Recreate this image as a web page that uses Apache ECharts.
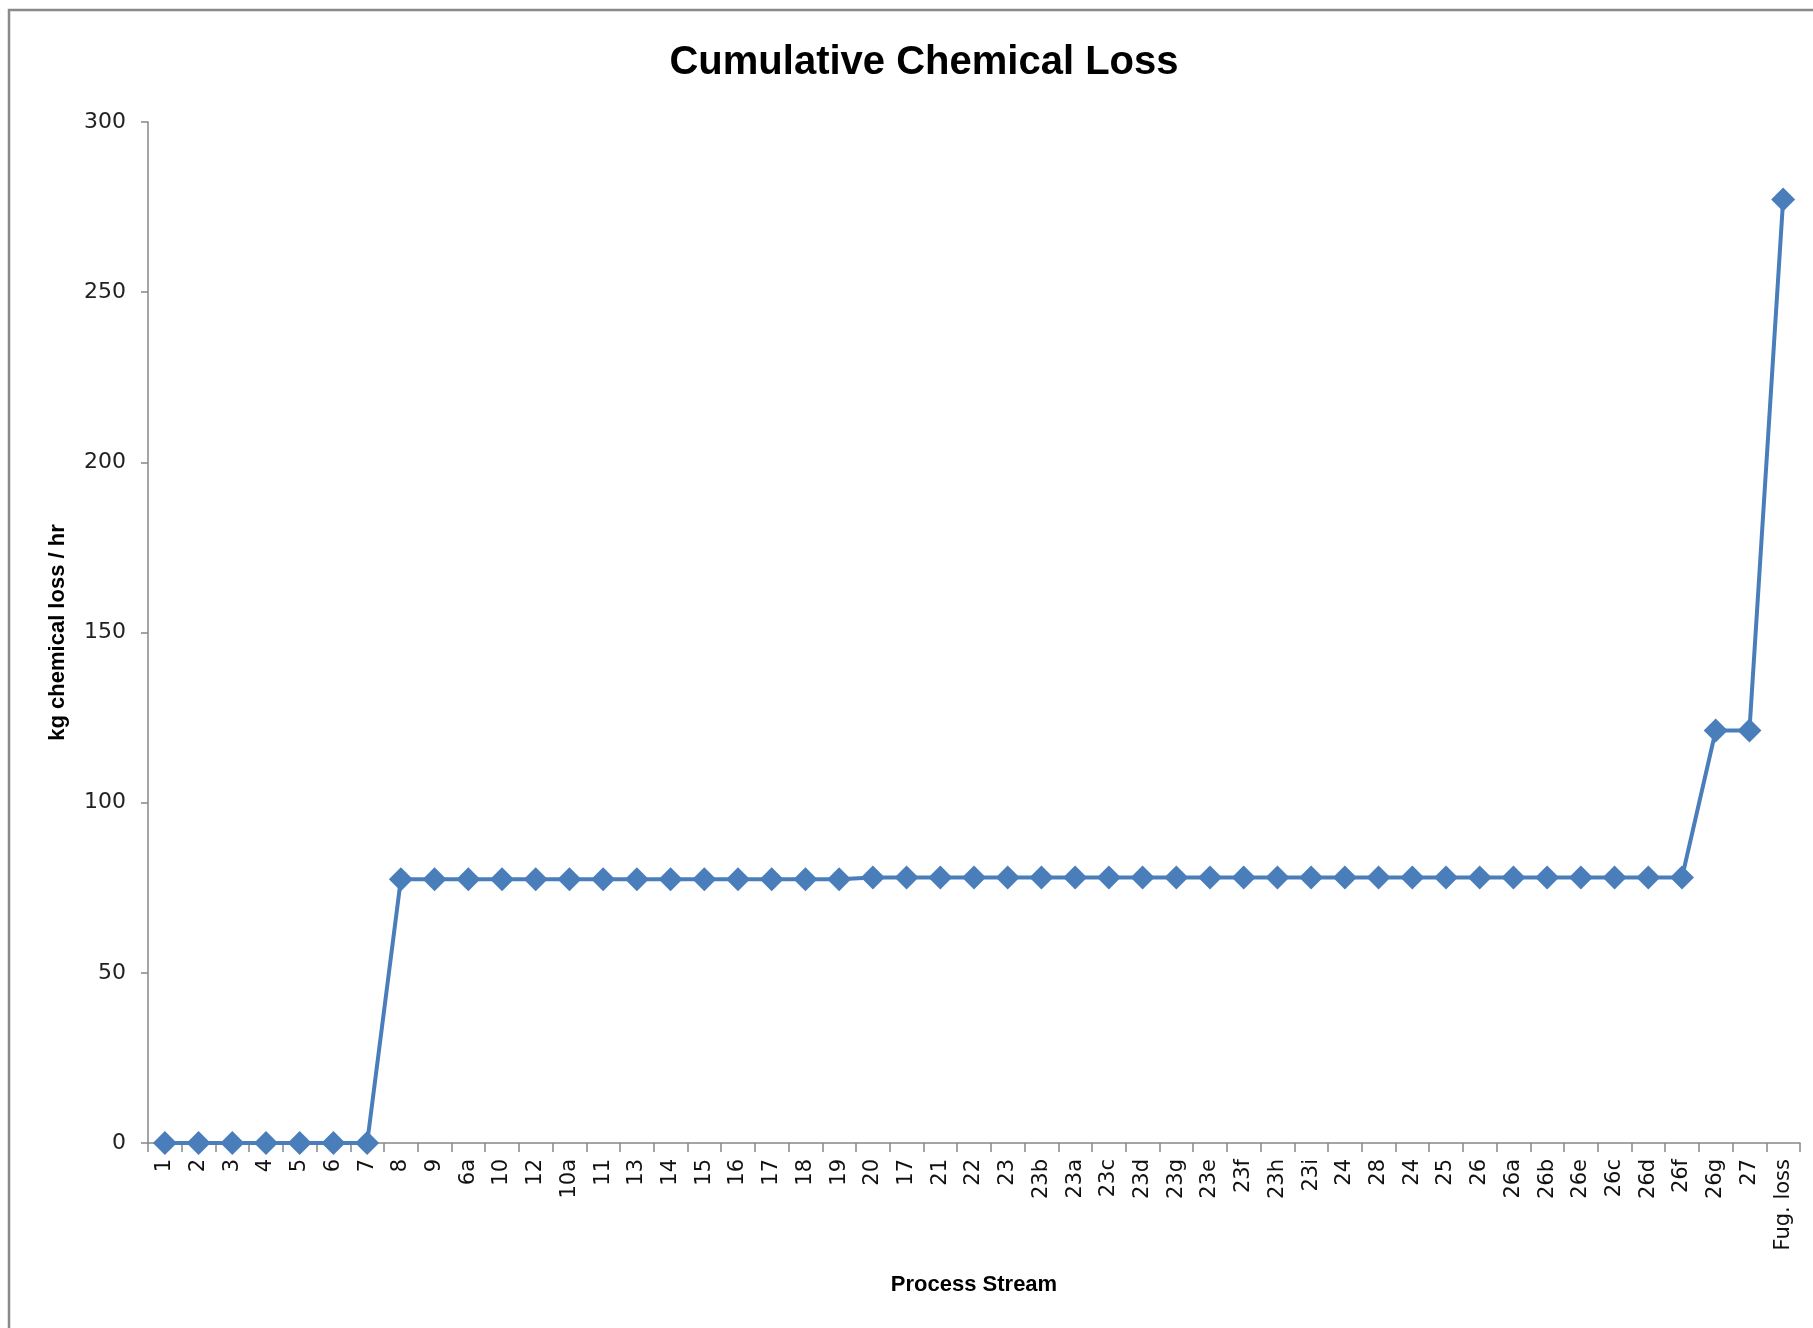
<!DOCTYPE html>
<html>
<head>
<meta charset="utf-8">
<script src="https://cdn.jsdelivr.net/npm/echarts@6/dist/echarts.min.js"></script>
<style>
html,body{margin:0;padding:0;background:#fff;}
#chart{width:1813px;height:1328px;}
</style>
</head>
<body>
<div id="chart"></div>
<script>
const streams = ['1','2','3','4','5','6','7','8','9','6a','10','12','10a','11','13','14','15','16','17','18','19','20','17','21','22','23','23b','23a','23c','23d','23g','23e','23f','23h','23i','24','28','24','25','26','26a','26b','26e','26c','26d','26f','26g','27','Fug. loss'];
const cumulativeLoss = [0,0,0,0,0,0,0,
  77.5,77.5,77.5,77.5,77.5,77.5,77.5,77.5,77.5,77.5,77.5,77.5,77.5,77.5,
  78,78,78,78,78,78,78,78,78,78,78,78,78,78,78,78,78,78,78,78,78,78,78,78,78,
  121.2,121.2,
  277.2];
const yTicks = {min: 0, max: 300, interval: 50};

const chart = echarts.init(document.getElementById('chart'), null, {renderer: 'canvas'});
const axisColor = '#868686';
chart.setOption({
  backgroundColor: '#ffffff',
  animation: false,
  title: {
    text: 'Cumulative Chemical Loss',
    left: 919,
    top: 38,
    textAlign: 'center',
    textStyle: {fontFamily: 'Liberation Sans', fontWeight: 'bold', fontSize: 40, color: '#000'}
  },
  graphic: [{
    type: 'rect',
    shape: {x: 9, y: 10, width: 3000, height: 3000},
    style: {fill: 'none', stroke: '#8a8a8a', lineWidth: 2.5},
    silent: true
  }],
  grid: {left: 148, right: 13, top: 122, bottom: 185, containLabel: false},
  xAxis: {
    type: 'category',
    data: streams,
    boundaryGap: true,
    name: 'Process Stream',
    nameLocation: 'middle',
    nameGap: 131,
    nameTextStyle: {fontFamily: 'Liberation Sans', fontWeight: 'bold', fontSize: 22, color: '#000'},
    axisLine: {lineStyle: {color: axisColor, width: 1.5}},
    axisTick: {show: true, length: 9, alignWithLabel: false, interval: 0, lineStyle: {color: axisColor, width: 1.5}},
    axisLabel: {interval: 0, rotate: 90, margin: 16, fontFamily: 'DejaVu Sans', fontSize: 21, color: '#111'},
    splitLine: {show: false}
  },
  yAxis: {
    type: 'value',
    min: yTicks.min,
    max: yTicks.max,
    interval: yTicks.interval,
    name: 'kg chemical loss / hr',
    nameLocation: 'middle',
    nameGap: 79,
    nameRotate: 90,
    nameTextStyle: {fontFamily: 'Liberation Sans', fontWeight: 'bold', fontSize: 22, color: '#000'},
    axisLine: {show: true, lineStyle: {color: axisColor, width: 1.5}},
    axisTick: {show: true, length: 7, lineStyle: {color: axisColor, width: 1.5}},
    axisLabel: {margin: 22, fontFamily: 'DejaVu Sans', fontSize: 22, color: '#222'},
    splitLine: {show: false}
  },
  series: [{
    type: 'line',
    data: cumulativeLoss,
    symbol: 'diamond',
    symbolSize: 24,
    showAllSymbol: true,
    lineStyle: {color: '#4A7EBB', width: 4},
    itemStyle: {color: '#4A7EBB'},
    z: 3
  }]
});
</script>
</body>
</html>
